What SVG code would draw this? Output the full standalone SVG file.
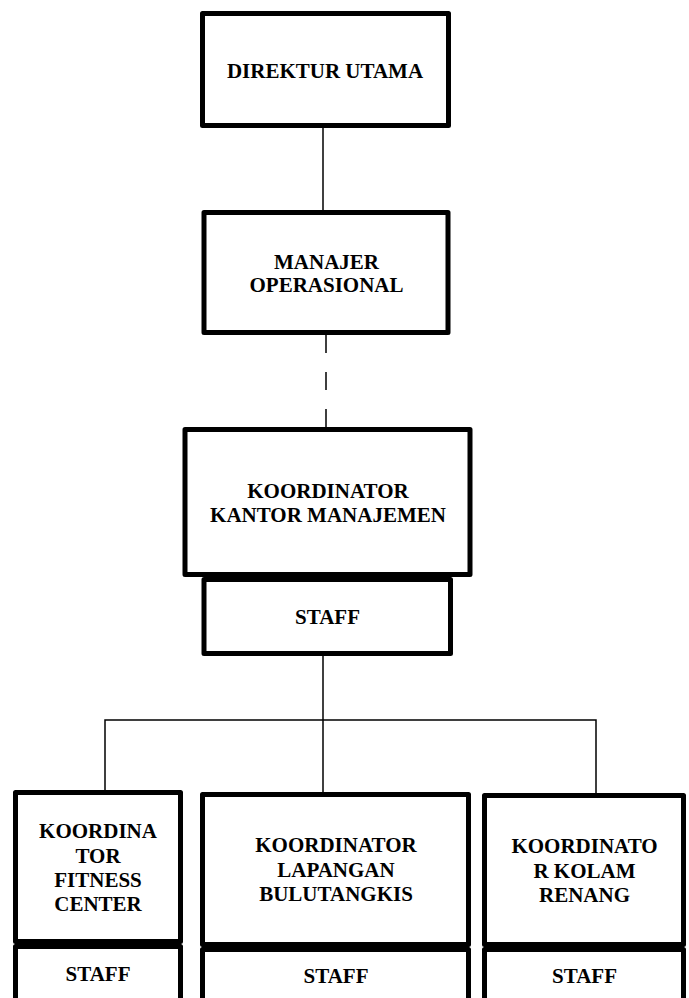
<svg xmlns="http://www.w3.org/2000/svg" width="689" height="998" viewBox="0 0 689 998">
<style>
.box{fill:#fff;stroke:#000;stroke-width:5;stroke-linejoin:round}
.lbl{font-family:"Liberation Serif","Times New Roman",serif;font-weight:bold;font-size:21px;text-anchor:middle;fill:#000}
.ln{stroke:#000;stroke-width:1.5;fill:none}
</style>
<rect width="689" height="998" fill="#fff"/>
<g id="connectors">
<line class="ln" x1="323" y1="128" x2="323" y2="210"/>
<line class="ln" x1="326" y1="335" x2="326" y2="427" stroke-dasharray="18 19"/>
<line class="ln" x1="323" y1="656" x2="323" y2="792"/>
<polyline class="ln" points="105,790 105,720 596,720 596,793"/>
</g>
<g id="direktur">
<rect class="box" x="202.5" y="13.5" width="246" height="112"/>
<text class="lbl" x="325" y="78">DIREKTUR UTAMA</text>
</g>
<g id="manajer">
<rect class="box" x="204" y="212.5" width="244" height="120"/>
<text class="lbl" x="326.5" y="269">MANAJER</text>
<text class="lbl" x="326.5" y="292">OPERASIONAL</text>
</g>
<g id="koord-kantor">
<rect class="box" x="185" y="429.5" width="285" height="145"/>
<text class="lbl" x="328" y="498">KOORDINATOR</text>
<text class="lbl" x="328" y="522">KANTOR MANAJEMEN</text>
</g>
<g id="staff-kantor">
<rect class="box" x="204" y="579.5" width="246.5" height="74"/>
<text class="lbl" x="327.5" y="624">STAFF</text>
</g>
<g id="koord-fitness">
<rect class="box" x="15.5" y="792.5" width="165" height="149"/>
<text class="lbl" x="98" y="838">KOORDINA</text>
<text class="lbl" x="98" y="863">TOR</text>
<text class="lbl" x="98" y="887">FITNESS</text>
<text class="lbl" x="98" y="911">CENTER</text>
</g>
<g id="staff-fitness">
<rect class="box" x="15.5" y="946.5" width="165" height="60"/>
<text class="lbl" x="98" y="981">STAFF</text>
</g>
<g id="koord-bulutangkis">
<rect class="box" x="202.5" y="794.5" width="266" height="150"/>
<text class="lbl" x="336" y="852">KOORDINATOR</text>
<text class="lbl" x="336" y="877">LAPANGAN</text>
<text class="lbl" x="336" y="901">BULUTANGKIS</text>
</g>
<g id="staff-bulutangkis">
<rect class="box" x="202.5" y="949.5" width="266" height="60"/>
<text class="lbl" x="336" y="983">STAFF</text>
</g>
<g id="koord-kolam">
<rect class="box" x="484.5" y="795.5" width="199" height="149"/>
<text class="lbl" x="584.5" y="853">KOORDINATO</text>
<text class="lbl" x="584.5" y="878">R KOLAM</text>
<text class="lbl" x="584.5" y="902">RENANG</text>
</g>
<g id="staff-kolam">
<rect class="box" x="484.5" y="949.5" width="199" height="60"/>
<text class="lbl" x="584.5" y="983">STAFF</text>
</g>
</svg>
